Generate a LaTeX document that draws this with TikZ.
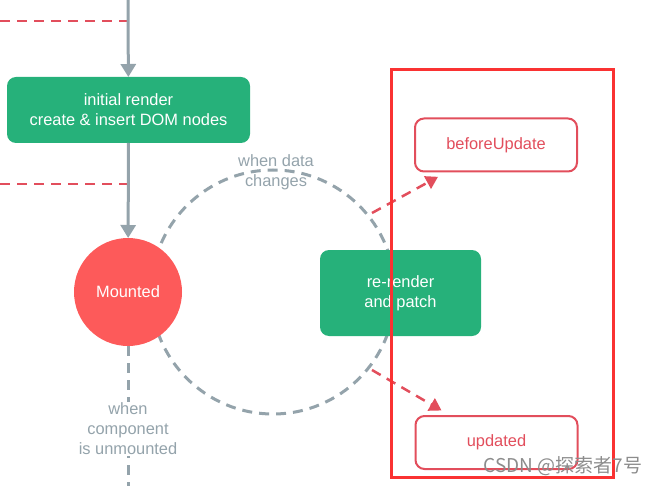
\documentclass[tikz,border=0pt]{standalone}
\usepackage{fontspec}
\setmainfont{Liberation Sans}
\newfontfamily\cjk{Noto Sans CJK SC}
\usetikzlibrary{arrows.meta,positioning}
\definecolor{vgreen}{RGB}{38,177,122}
\definecolor{vred}{RGB}{253,90,90}
\definecolor{vgray}{RGB}{148,163,171}
\definecolor{hookred}{RGB}{226,78,92}
\definecolor{markred}{RGB}{250,50,50}
\begin{document}
\begin{tikzpicture}[x=1pt,y=-1pt,font=\fontsize{16.4}{20}\selectfont,
  action/.style = {fill=vgreen, text=white, rounded corners=9pt, align=center, outer sep=0pt},
  state/.style = {circle, fill=vred, text=white, minimum size=108pt, outer sep=0pt},
  hook/.style = {draw=hookred, line width=2pt, fill=white, text=hookred, rounded corners=9pt, minimum width=162pt, minimum height=53pt, outer sep=1pt},
  flow/.style = {vgray, line width=3pt, -{Triangle[width=15pt,length=13pt]}},
  loop/.style = {vgray, line width=3pt, dash pattern=on 10pt off 7pt},
  trigger/.style = {hookred, line width=2.5pt, dash pattern=on 10pt off 7pt, -{Triangle[width=14pt,length=12pt]}},
  note/.style = {text=vgray, align=center}]

\useasboundingbox (0,0) rectangle (660,486);

% update loop
\draw[loop] (273,292) circle (122pt);
\node[note] (datanote) at (276,172) {when data\\changes};

\coordinate (top) at (128,0);
\coordinate (bottom) at (128,486);
\coordinate (left1) at (0,21);
\coordinate (mid1) at (128,21);
\coordinate (left2) at (0,184);
\coordinate (mid2) at (128,184);

\node[action, minimum width=243pt, minimum height=66pt] (init) at (128.5,110) {initial render\\create \& insert DOM nodes};
\node[state] (mounted) at (128,292) {Mounted};
\node[action, minimum width=161pt, minimum height=86pt] (rerender) at (400.5,293) {re-render\\and patch};
\node[hook] (bu) at (496,145) {beforeUpdate};
\node[hook] (up) at (496.5,442.5) {updated};

\draw[hookred, line width=2.5pt, dash pattern=on 10pt off 7pt] (left1) -- (mid1);
\draw[hookred, line width=2.5pt, dash pattern=on 10pt off 7pt] (left2) -- (mid2);
\draw[flow] (top) -- (init);
\draw[flow] (init) -- (mounted);

% teardown
\draw[loop] (mounted) -- (bottom);
\node[note, fill=white, inner sep=1pt] (unmount) at (128,429) {when\\component\\is unmounted};

% hooks
\coordinate (s1) at (372,213);
\coordinate (s2) at (372,370);
\draw[trigger, shorten >=9pt] (s1) -- (bu);
\draw[trigger, shorten >=9pt] (s2) -- (up);

\draw[markred, line width=3pt] (391,70) rectangle (613,477);
\node[text=gray!90, font=\cjk\fontsize{19}{22}\selectfont, anchor=east] (mark) at (646,466) {CSDN @探索者7号};
\end{tikzpicture}
\end{document}
